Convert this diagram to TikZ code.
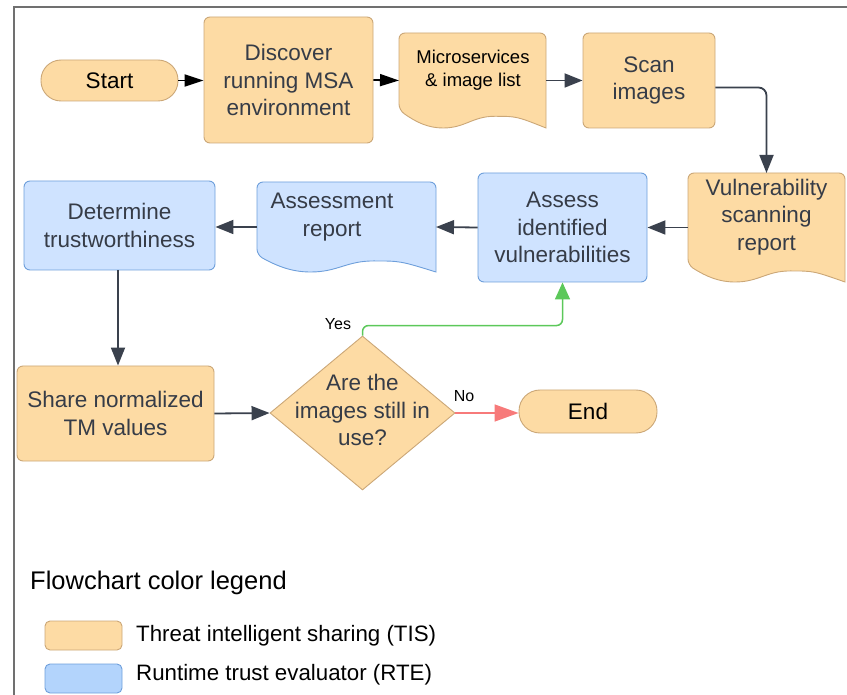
\documentclass[tikz,border=0pt]{standalone}
\usepackage{fontspec}
\setmainfont{Liberation Sans}
\usetikzlibrary{shapes.geometric,arrows.meta,calc}

\definecolor{tisfill}{HTML}{FDDBA4}
\definecolor{tisline}{HTML}{CBA777}
\definecolor{rtefill}{HTML}{CFE3FF}
\definecolor{rteline}{HTML}{6E9FDB}
\definecolor{legblue}{HTML}{B3D4FC}
\definecolor{ink}{HTML}{363C47}
\definecolor{wire}{HTML}{3A414D}
\definecolor{yesgreen}{HTML}{5CC85A}
\definecolor{nored}{HTML}{F77A7A}
\definecolor{frame}{HTML}{707070}

\tikzset{
  base/.style={inner sep=0pt, align=center, text=ink,
    font=\fontsize{22.5}{27.5}\selectfont},
  tis/.style={base, draw=tisline, fill=tisfill, line width=0.9pt, rounded corners=6pt},
  rte/.style={base, draw=rteline, fill=rtefill, line width=0.9pt, rounded corners=6pt},
  term/.style={tis, rounded corners=20pt, text=black},
  place/.style={inner sep=0pt, outer sep=0pt},
  tissheet/.style={draw=tisline, fill=tisfill, line width=0.9pt},
  rtesheet/.style={draw=rteline, fill=rtefill, line width=0.9pt},
  conn/.style={draw=wire, line width=1.8pt, -{Triangle[length=18pt,width=14pt]}},
  blackconn/.style={draw=black, line width=1.8pt, -{Triangle[length=19pt,width=12pt]}},
  small/.style={inner sep=0pt, font=\fontsize{16}{19}\selectfont, text=black},
}

% document sheet with a wavy lower edge: style, x1, top, x2, bottom, wave depth
\newcommand\docsheet[6]{%
  \pgfmathsetmacro\dw{#4-#2}%
  \draw[#1] (#4,#5) [rounded corners=6pt] -- (#4,#3) -- (#2,#3) -- (#2,{#5-#6})
    [sharp corners]
    .. controls ({#2+0.12*\dw},{#5-0.3*#6}) and ({#2+0.2*\dw},#5) .. ({#2+0.3*\dw},#5)
    .. controls ({#2+0.45*\dw},#5) and ({#2+0.5*\dw},{#5-0.65*#6}) .. ({#2+0.65*\dw},{#5-0.65*#6})
    .. controls ({#2+0.8*\dw},{#5-0.65*#6}) .. (#4,#5) -- cycle;}

\begin{document}
\begin{tikzpicture}[x=1pt,y=-1pt]
\useasboundingbox (0,0) rectangle (847,695);

% outer frame (left and top edges)
\draw[frame, line width=2pt] (14,695) -- (14,7) -- (847,7);

% --- top row ---
\node[term, minimum width=137pt, minimum height=41pt] (start) at (109.5,80.5) {Start};
\node[tis, minimum width=169pt, minimum height=126pt] (disc) at (288.5,80) {Discover\\running MSA\\environment};

\docsheet{tissheet}{399}{33}{546}{128}{18}
\node[place, minimum width=147pt, minimum height=95pt] (micro) at (472.5,80.5) {};
\node[base, text=black, font=\fontsize{18.5}{22.5}\selectfont] (microtxt) at (473,70) {Microservices\\\& image list};

\node[tis, minimum width=132pt, minimum height=95pt] (scan) at (649,80.5) {Scan\\images};

% --- second row ---
\docsheet{tissheet}{688}{173}{845}{282}{17}
\node[place, minimum width=157pt, minimum height=109pt] (vuln) at (766.5,227.5) {};
\node[base] (vulntxt) at (766.5,217) {Vulnerability\\scanning\\report};

\node[rte, minimum width=169pt, minimum height=109pt] (assess) at (562.5,227.5) {Assess\\identified\\vulnerabilities};

\docsheet{rtesheet}{257}{182}{436}{272}{17}
\node[place, minimum width=179pt, minimum height=90pt] (report) at (346.5,227) {};
\node[base] (reporttxt) at (332,217) {Assessment\\report};

\node[rte, minimum width=191pt, minimum height=89pt] (det) at (119.5,225.5) {Determine\\trustworthiness};

% --- third row ---
\node[tis, minimum width=197pt, minimum height=95pt] (share) at (115.5,413.5) {Share normalized\\TM values};
\node[diamond, draw=tisline, fill=tisfill, line width=0.9pt, inner sep=0pt,
      minimum width=185pt, minimum height=154pt] (dec) at (362.5,413) {};
\node[base] (dectxt) at (362.5,410) {Are the\\images still in\\use?};
\node[term, minimum width=138pt, minimum height=43pt, rounded corners=21pt] (end) at (588,411.5) {End};

% --- connectors ---
\draw[blackconn] (start.east) -- (disc.west |- start.east);
\draw[blackconn] (disc.east) -- (micro.west);
\draw[conn] (micro.east) -- (scan.west);
\draw[conn, rounded corners=8pt] ([yshift=-7pt]scan.east) -| (vuln.north);
\draw[conn] (vuln.west) -- (assess.east);
\draw[conn] (assess.west) -- (report.east);
\draw[conn] (report.west) -- (report.west -| det.east);
\draw[conn] (det.south -| 118,0) -- (share.north -| 118,0);
\draw[conn] (share.east) -- (dec.west);
\draw[draw=yesgreen, line width=1.5pt, rounded corners=6pt,
      -{Triangle[length=17pt,width=15pt]}] (dec.north) -- ++(0,-10) -| (assess.south);
\draw[draw=nored, line width=1.5pt, -{Triangle[length=24pt,width=17pt]}] (dec.east) -- (end.west |- dec.east);

\node[small] (yes) at (338,324) {Yes};
\node[small] (no) at (464,396) {No};

% --- legend ---
\node[anchor=west, inner sep=0pt, font=\fontsize{25.5}{30}\selectfont] (legtitle) at (30,583) {Flowchart color legend};
\draw[draw=tisline, fill=tisfill, line width=0.9pt, rounded corners=5pt] (45,621) rectangle (122,650);
\draw[draw=rteline, fill=legblue, line width=0.9pt, rounded corners=5pt] (45,664) rectangle (122,693);
\node[anchor=west, inner sep=0pt, font=\fontsize{22.3}{26}\selectfont] (legtis) at (136,636) {Threat intelligent sharing (TIS)};
\node[anchor=west, inner sep=0pt, font=\fontsize{22.3}{26}\selectfont] (legrte) at (136,675) {Runtime trust evaluator (RTE)};
\end{tikzpicture}
\end{document}
